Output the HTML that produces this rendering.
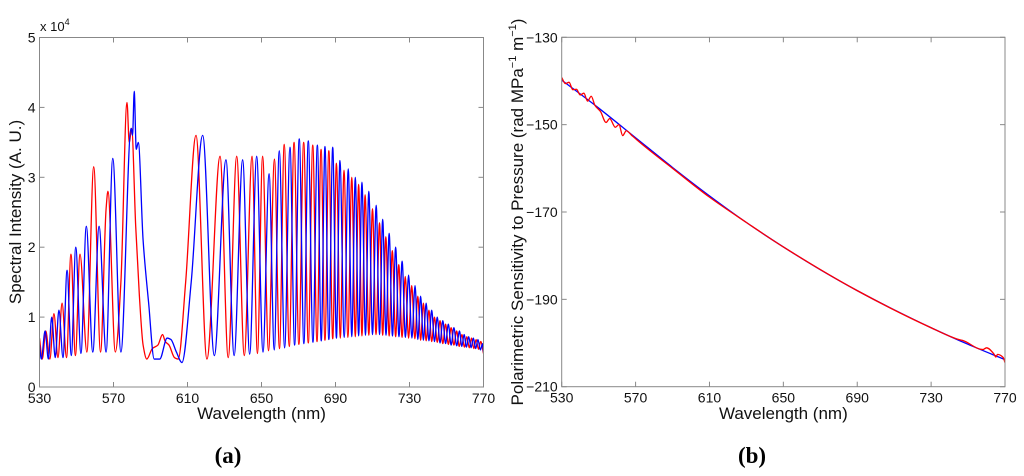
<!DOCTYPE html>
<html><head><meta charset="utf-8"><style>
html,body{margin:0;padding:0;background:#fff;width:1024px;height:476px;overflow:hidden}
svg{display:block;font-family:"Liberation Sans",Arial,sans-serif}
</style></head><body>
<svg id="fig" width="1024" height="476" xmlns="http://www.w3.org/2000/svg"></svg>
<script>
// ---- Panel (a) data: alternating extrema (wavelength nm, intensity x1e4)
const blueWl = [530,531,533,534.8,536.6,538.5,540.5,542.7,544.9,547.2,549.6,552.4,555.3,558.8,562.2,566,569.6,574,579.5,580.3,581.2,582.3,583.4,586,589,592,595,599,601,604,607,612,618.2,624.5,630.8,635.2,639.8,
643.6,647.4,650.8,654.1,656.9,659.6,662.5,665.4,667.9,670.4,672.9,675.3,677.8,680.2,682.3,684.3,686.4,688.5,690.5,692.4,694.7,696.9,698.8,700.7,702.5,704.3,706.2,708,710,712,713.8,715.5,717.3,719,720.8,722.5,724.3,726,727.8,729.5,731.3,733,734.5,736,737.5,739,740.5,742,743.5,745,746.5,748,749.5,751,752.5,754,755.5,757,758.3,759.5,760.8,762,763.3,764.5,765.8,767,768.3,769.5,770];
const blueVal = [0.6,0.4,0.8,0.4,1.0,0.42,1.1,0.42,1.67,0.45,2.0,0.48,2.3,0.5,2.3,0.5,3.27,0.5,3.7,3.6,4.23,3.4,3.5,2.1,1.2,0.4,0.4,0.7,0.68,0.5,0.35,1.5,3.6,0.45,3.25,0.45,3.25,
0.47,3.3,0.5,3.05,0.53,3.38,0.56,3.43,0.6,3.55,0.62,3.52,0.64,3.46,0.66,3.44,0.68,3.43,0.7,3.24,0.71,3.12,0.72,3.0,0.73,2.93,0.74,2.8,0.75,2.6,0.75,2.4,0.74,2.2,0.73,2.0,0.72,1.8,0.71,1.6,0.7,1.45,0.68,1.3,0.67,1.2,0.66,1.1,0.65,1.0,0.63,0.95,0.62,0.9,0.6,0.85,0.59,0.8,0.58,0.75,0.57,0.72,0.56,0.7,0.55,0.68,0.53,0.62,0.5];
const redWl = [530,531.5,533.4,535.6,537.8,540,542.2,544.6,547,549.4,551.9,555.6,559.3,563,566,567,571,574,577.3,578.5,579.8,582,584,586,588,591,594,596.5,598,600,603,605,609,614.6,620.5,627.6,632,636.6,
640.7,644.9,647.8,650.6,653.8,657,659.7,662.3,665,667.6,670.2,672.8,675.3,677.7,680,682.2,684.3,686.4,688.5,690.5,692.6,694.6,696.7,698.8,700.7,702.5,704.3,706,708,710,711.9,713.8,715.5,717.2,719,720.7,722.5,724.2,726,727.7,729.5,731.2,732.9,734.5,736,737.5,739,740.5,742,743.5,745,746.5,748,749.5,751,752.5,754,755.5,756.9,758.3,759.7,761,762.3,763.5,764.8,766,767.3,768.5,770];
const redVal = [0.7,0.4,0.8,0.4,1.05,0.42,1.2,0.42,1.9,0.45,1.9,0.5,3.15,0.5,2.55,2.8,0.5,1.5,4.07,3.5,3.7,2.3,1.3,0.6,0.4,0.55,0.6,0.75,0.65,0.6,0.42,0.4,1.5,3.6,0.4,3.3,0.42,3.3,
0.45,3.3,0.48,3.3,0.52,3.26,0.55,3.47,0.58,3.5,0.61,3.5,0.63,3.46,0.65,3.4,0.67,3.38,0.69,3.2,0.7,3.1,0.71,3.0,0.72,2.9,0.73,2.75,0.74,2.55,0.75,2.35,0.74,2.15,0.73,1.95,0.72,1.75,0.71,1.58,0.7,1.45,0.69,1.3,0.67,1.2,0.66,1.1,0.65,1.0,0.64,0.95,0.62,0.9,0.61,0.85,0.6,0.8,0.58,0.75,0.57,0.72,0.56,0.7,0.55,0.68,0.54,0.65,0.48];
// ---- Panel (b) data
const sensBlueWl = [530,550,570,590,610,630,650,670,690,710,730,750,770];
const sensBlueVal = [-139.8,-146.2,-153,-159.8,-166.3,-172.4,-178,-183.2,-188,-192.4,-196.5,-200.3,-203.8];
const sensRedWl = [530,532,534,536,538,540,542,544,546,548,551,554,556,559,561,563,565,568,575,590,610,630,650,690,730,745,747,758,760,764,765,766,769,770];
const sensRedVal = [-139.2,-140.6,-140.3,-142,-141.9,-143.2,-142.8,-144.6,-143.5,-145.6,-147,-149.5,-148.6,-150.6,-150,-152.5,-151.4,-152.5,-155,-160,-166.6,-172.4,-178,-188,-196.5,-199.2,-199.4,-201.5,-201.1,-202.5,-203.2,-202.6,-203.3,-204.5];
const xTicks = [530,570,610,650,690,730,770];
const aYTicks = [0,1,2,3,4,5];
const bYTicks = [-130,-150,-170,-190,-210];

const NS='http://www.w3.org/2000/svg', svg=document.getElementById('fig');
function mk(tag,attrs,parent,text){const e=document.createElementNS(NS,tag);for(const k in attrs)e.setAttribute(k,attrs[k]);if(text!==undefined)e.textContent=text;(parent||svg).appendChild(e);return e;}
function lin(d0,d1,r0,r1){return v=>r0+(v-d0)/(d1-d0)*(r1-r0);}
function monoPath(xs,ys){ // Fritsch-Carlson monotone cubic
  const n=xs.length,d=[],m=[];
  for(let i=0;i<n-1;i++)d.push((ys[i+1]-ys[i])/(xs[i+1]-xs[i]));
  m[0]=d[0];m[n-1]=d[n-2];
  for(let i=1;i<n-1;i++){if(d[i-1]*d[i]<=0)m[i]=0;else{const w1=2*(xs[i+1]-xs[i])+(xs[i]-xs[i-1]),w2=(xs[i+1]-xs[i])+2*(xs[i]-xs[i-1]);m[i]=(w1+w2)/(w1/d[i-1]+w2/d[i]);}}
  let p='M'+xs[0].toFixed(2)+','+ys[0].toFixed(2);
  for(let i=0;i<n-1;i++){const h=(xs[i+1]-xs[i])/3;p+=' C'+(xs[i]+h).toFixed(2)+','+(ys[i]+m[i]*h).toFixed(2)+' '+(xs[i+1]-h).toFixed(2)+','+(ys[i+1]-m[i+1]*h).toFixed(2)+' '+xs[i+1].toFixed(2)+','+ys[i+1].toFixed(2);}
  return p;
}
function panel(cfg){
  const g=mk('g',{});
  
  
  const X=lin(530,770,cfg.x0,cfg.x1),Y=lin(cfg.ymin,cfg.ymax,cfg.y0,cfg.y1);
  const clipId=cfg.name+'-clip';
  const cp=mk('clipPath',{id:clipId},g);mk('rect',{x:cfg.x0,y:cfg.y1,width:cfg.x1-cfg.x0,height:cfg.y0-cfg.y1},cp);
  cfg.series.forEach(s=>{
    const p=mk('path',{d:monoPath(s.wl.map(X),s.val.map(Y)),fill:'none',stroke:s.color,'stroke-width':1.3,'clip-path':'url(#'+clipId+')'},g);
    
    
  });
  const fr=mk('rect',{x:cfg.x0,y:cfg.y1,width:cfg.x1-cfg.x0,height:cfg.y0-cfg.y1,fill:'none',stroke:'#888','stroke-width':1},g);
  
  
  const xa=mk('g',{},g);
  
  
  xTicks.forEach(t=>{const x=X(t);
    mk('line',{x1:x,x2:x,y1:cfg.y0,y2:cfg.y0-5,stroke:'#888'},xa);
    mk('line',{x1:x,x2:x,y1:cfg.y1,y2:cfg.y1+5,stroke:'#888'},xa);
    const tl=mk('text',{x:x,y:cfg.y0+16,'text-anchor':'middle','font-size':14,fill:'#111'},xa,String(t));
    
    
  });
  const ya=mk('g',{},g);
  
  
  cfg.yTicks.forEach(t=>{const y=Y(t);
    mk('line',{x1:cfg.x0,x2:cfg.x0+5,y1:y,y2:y,stroke:'#888'},ya);
    mk('line',{x1:cfg.x1,x2:cfg.x1-5,y1:y,y2:y,stroke:'#888'},ya);
    const tl=mk('text',{x:cfg.x0-4,y:y+5,'text-anchor':'end','font-size':14,fill:'#111'},ya,String(t).replace('-','\u2212'));
    
    
  });
  const xt=mk('text',{x:(cfg.x0+cfg.x1)/2,y:419,'text-anchor':'middle','font-size':17,fill:'#111'},g,'Wavelength (nm)');
  
  
  const lb=mk('text',{x:cfg.labelX,y:463,'text-anchor':'middle','font-size':23,'font-weight':'bold','font-family':'"Liberation Serif",serif',fill:'#000'},g,cfg.label);
  
  
  return {g,X,Y};
}
const a=panel({name:'panel-a-spectrum',x0:39.5,x1:483.5,y0:387,y1:37.5,ymin:0,ymax:5,yTicks:aYTicks,label:'(a)',labelX:228,
  series:[{name:'spectrum-red',wl:redWl,val:redVal,color:'#f00'},{name:'spectrum-blue',wl:blueWl,val:blueVal,color:'#00f'}]});
const ay=mk('text',{transform:'translate(21,212) rotate(-90)','text-anchor':'middle','font-size':17,fill:'#111'},a.g,'Spectral Intensity (A. U.)');


const ex=mk('text',{x:40,y:31,'font-size':13,fill:'#111'},a.g);


ex.innerHTML='x 10<tspan dy="-6" font-size="9">4</tspan>';

const b=panel({name:'panel-b-sensitivity',x0:561.7,x1:1005,y0:386.7,y1:37.3,ymin:-210,ymax:-130,yTicks:bYTicks,label:'(b)',labelX:752,
  series:[{name:'sensitivity-blue',wl:sensBlueWl,val:sensBlueVal,color:'#00f'},{name:'sensitivity-red',wl:sensRedWl,val:sensRedVal,color:'#f00'}]});
const by=mk('text',{transform:'translate(523,212) rotate(-90)','text-anchor':'middle','font-size':17,fill:'#111'},b.g);


by.innerHTML='Polarimetric Sensitivity to Pressure (rad MPa<tspan dy="-7" font-size="11">\u22121</tspan><tspan dy="7"> m</tspan><tspan dy="-7" font-size="11">\u22121</tspan><tspan dy="7">)</tspan>';
</script>
</body></html>
